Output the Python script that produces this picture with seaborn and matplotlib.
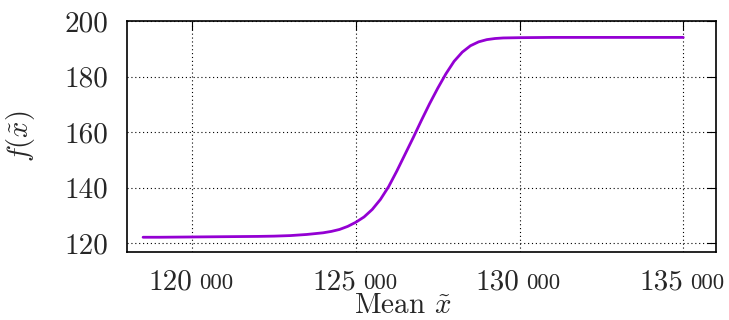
import numpy as np
import pandas as pd
import seaborn as sns
from matplotlib import pyplot as plt

# values
x_mean = [118500, 119000, 120000, 121000, 122000, 122500, 123000, 123500,
          124000, 124250, 124500, 124750, 125000, 125250, 125500, 125750,
          126000, 126250, 126500, 126750, 127000, 127250, 127500, 127750,
          128000, 128250, 128500, 128750, 129000, 129250, 129500, 130000,
          131000, 132000, 133000, 134000, 135000]
f_val = [122.2, 122.2, 122.3, 122.4, 122.5, 122.6, 122.8, 123.2,
         123.8, 124.3, 125.0, 126.1, 127.6, 129.5, 132.2, 135.8,
         140.4, 146.0, 152.0, 158.0, 164.2, 170.2, 175.8, 181.0,
         185.5, 188.8, 191.1, 192.5, 193.3, 193.7, 193.9, 194.0,
         194.1, 194.1, 194.1, 194.1, 194.1]
x_ticks = [120000, 125000, 130000, 135000]
y_ticks = [120, 140, 160, 180, 200]

sns.set_style("white")
plt.rcParams['font.family'] = ['cmr10', 'DejaVu Serif']
plt.rcParams['mathtext.fontset'] = 'cm'
plt.rcParams['axes.formatter.use_mathtext'] = True

W, H = 729, 320
fig, ax = plt.subplots(figsize=(W / 100, H / 100), dpi=100)
ax: plt.Axes
fig.subplots_adjust(left=126.7 / W, right=716 / W, bottom=1 - 251.7 / H, top=1 - 21 / H)

data = pd.DataFrame({"x": x_mean, "f": f_val})
sns.lineplot(data=data, x="x", y="f", ax=ax, color="#9400D3", linewidth=2.0)

ax.set_xlim(118000, 136000)
ax.set_ylim(117, 200)
ax.set_xticks(x_ticks)
ax.set_yticks(y_ticks)
ax.set_yticklabels([str(v) for v in y_ticks])
ax.grid(True, color="k", linestyle=(0, (1, 2.5)), linewidth=0.8)
ax.tick_params(direction="in", length=6.5, width=0.8, color="k",
               top=True, right=True, labelbottom=False, labelsize=21, pad=13)
for s in ax.spines.values():
    s.set_color("k")
    s.set_linewidth(1.2)

# x tick labels: thousands part big, "000" smaller, like the reference
for t in x_ticks:
    ax.annotate(str(t // 1000), xy=(t, 0), xycoords=("data", "axes fraction"),
                xytext=(0, -37.6), textcoords="offset pixels",
                ha="right", va="baseline", fontsize=21)
    ax.annotate("%03d" % (t % 1000), xy=(t, 0), xycoords=("data", "axes fraction"),
                xytext=(7, -37.6), textcoords="offset pixels",
                ha="left", va="baseline", fontsize=16.5)

ax.set_xlabel(r"Mean $\tilde{x}$", fontsize=21)
ax.xaxis.label.set_va("baseline")
ax.xaxis.set_label_coords(0.469, -(313.3 - 251.7) / 230.7)
ax.set_ylabel(r"$f(\tilde{x})$", fontsize=20.5)
ax.yaxis.set_label_coords(-0.152, 0.5)

fig.savefig("out.png", dpi=100)
